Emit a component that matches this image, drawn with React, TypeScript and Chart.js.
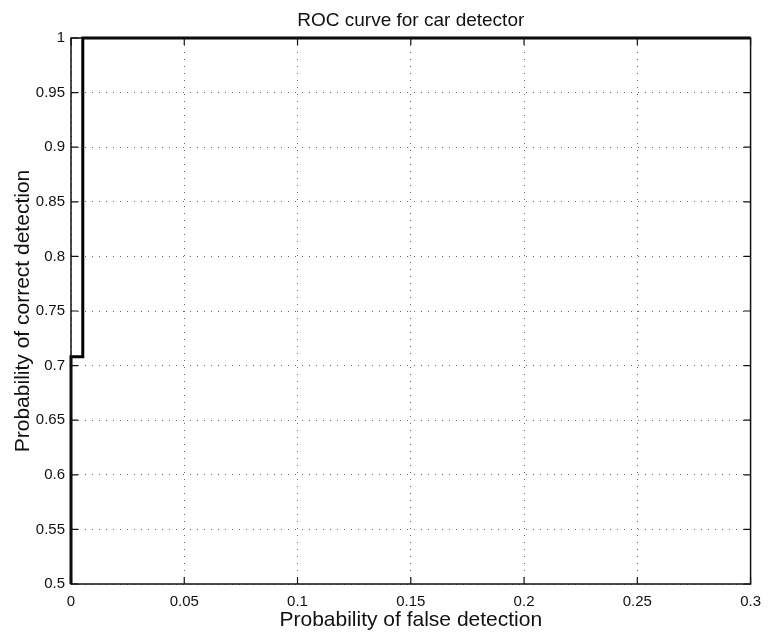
import React, { useEffect, useRef } from "react";
import { Chart, registerables } from "chart.js";

Chart.register(...registerables);

// ROC curve operating points for the car detector
const falseDetection = [0, 0, 0.0052, 0.0052, 0.3];
const correctDetection = [0, 0.708, 0.708, 1, 1];

const xTickLabels = ["0", "0.05", "0.1", "0.15", "0.2", "0.25", "0.3"];
const yTickLabels = ["0.5", "0.55", "0.6", "0.65", "0.7", "0.75", "0.8", "0.85", "0.9", "0.95", "1"];

const titleText = "ROC curve for car detector";
const xTitleText = "Probability of false detection";
const yTitleText = "Probability of correct detection";

const FONT = "'Liberation Sans', Arial, Helvetica, sans-serif";
const INK = "#111";

// Draws the axes box, inward tick marks, title and axis labels
const framePlugin = {
  id: "frame",
  afterDatasetsDraw(chart: any) {
    const { ctx, chartArea } = chart;
    const { left, right, top, bottom } = chartArea;
    const xs = chart.scales.x;
    const ys = chart.scales.y;
    ctx.save();
    ctx.strokeStyle = INK;
    ctx.lineWidth = 1.5;
    ctx.strokeRect(left, top, right - left, bottom - top);

    const tl = 7;
    ctx.lineWidth = 1.2;
    ctx.beginPath();
    xs.ticks.forEach((t: any) => {
      const x = xs.getPixelForValue(t.value);
      ctx.moveTo(x, bottom);
      ctx.lineTo(x, bottom - tl);
      ctx.moveTo(x, top);
      ctx.lineTo(x, top + tl);
    });
    ys.ticks.forEach((t: any) => {
      const y = ys.getPixelForValue(t.value);
      ctx.moveTo(left, y);
      ctx.lineTo(left + tl, y);
      ctx.moveTo(right, y);
      ctx.lineTo(right - tl, y);
    });
    ctx.stroke();
    ctx.restore();
  },
  afterDraw(chart: any) {
    const { ctx, chartArea } = chart;
    const { left, right, top, bottom } = chartArea;
    const cx = (left + right) / 2;
    const cy = (top + bottom) / 2;
    ctx.save();
    ctx.fillStyle = INK;
    ctx.textAlign = "center";
    ctx.textBaseline = "alphabetic";
    ctx.font = `19px ${FONT}`;
    ctx.fillText(titleText, cx, 26);

    ctx.font = `21px ${FONT}`;
    ctx.fillText(xTitleText, cx, 626);

    ctx.translate(29, cy);
    ctx.rotate(-Math.PI / 2);
    ctx.fillText(yTitleText, 0, 0);
    ctx.restore();
  },
};

export default function App() {
  const canvasRef = useRef<HTMLCanvasElement | null>(null);

  useEffect(() => {
    if (!canvasRef.current) return;
    const points = falseDetection.map((x, i) => ({ x, y: correctDetection[i] }));
    const gridStyle = {
      color: "#666",
      lineWidth: 1,
      drawTicks: false,
    };
    const chart = new Chart(canvasRef.current, {
      type: "scatter",
      data: {
        datasets: [
          {
            data: points,
            showLine: true,
            borderColor: "#000",
            borderWidth: 3,
            pointRadius: 0,
            fill: false,
            tension: 0,
            clip: { left: 5, top: 5, right: 5, bottom: 0 } as any,
          },
        ],
      },
      options: {
        responsive: false,
        animation: false,
        devicePixelRatio: 1,
        layout: { padding: { top: 38, right: 13, bottom: 0, left: 0 } },
        plugins: {
          legend: { display: false },
          title: { display: false },
          tooltip: { enabled: false },
        },
        scales: {
          x: {
            type: "linear",
            min: 0,
            max: 0.3,
            border: { display: false, dash: [1, 6] },
            grid: gridStyle,
            ticks: {
              stepSize: 0.05,
              padding: 9,
              color: INK,
              font: { family: FONT, size: 15 },
              maxRotation: 0,
              callback: (_v: any, i: number) => xTickLabels[i],
            },
            afterFit: (s: any) => {
              s.height = 48;
            },
          },
          y: {
            type: "linear",
            min: 0.5,
            max: 1,
            border: { display: false, dash: [1, 6] },
            grid: gridStyle,
            ticks: {
              stepSize: 0.05,
              padding: 6,
              color: INK,
              font: { family: FONT, size: 15 },
              callback: (_v: any, i: number) => yTickLabels[i],
            },
            afterFit: (s: any) => {
              s.width = 71;
            },
          },
        },
      },
      plugins: [framePlugin],
    });
    return () => chart.destroy();
  }, []);

  return (
    <div style={{ position: "absolute", left: 0, top: 0, width: 770, height: 632, background: "#fff" }}>
      <canvas ref={canvasRef} width={770} height={632} />
    </div>
  );
}
